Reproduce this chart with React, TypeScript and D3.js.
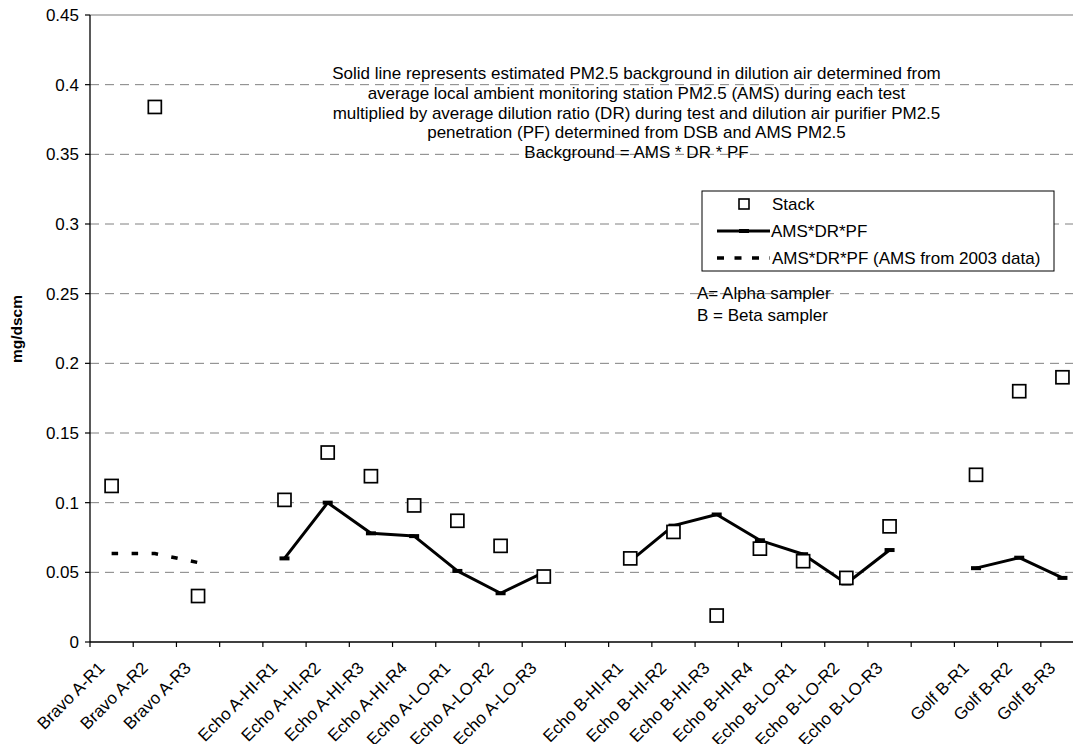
import React from "react";
import * as d3 from "d3";

const categories: string[] = [
  "Bravo A-R1", "Bravo A-R2", "Bravo A-R3", "",
  "Echo A-HI-R1", "Echo A-HI-R2", "Echo A-HI-R3", "Echo A-HI-R4",
  "Echo A-LO-R1", "Echo A-LO-R2", "Echo A-LO-R3", "",
  "Echo B-HI-R1", "Echo B-HI-R2", "Echo B-HI-R3", "Echo B-HI-R4",
  "Echo B-LO-R1", "Echo B-LO-R2", "Echo B-LO-R3", "",
  "Golf B-R1", "Golf B-R2", "Golf B-R3",
];

const stack: (number | null)[] = [
  0.112, 0.384, 0.033, null,
  0.102, 0.136, 0.119, 0.098,
  0.087, 0.069, 0.047, null,
  0.06, 0.079, 0.019, 0.067,
  0.058, 0.046, 0.083, null,
  0.12, 0.18, 0.19,
];

const amsDrPf: (number | null)[] = [
  null, null, null, null,
  0.06, 0.1, 0.078, 0.076,
  0.051, 0.035, 0.05, null,
  0.058, 0.0835, 0.0915, 0.073,
  0.063, 0.042, 0.066, null,
  0.053, 0.0605, 0.046,
];

const amsDrPf2003: (number | null)[] = [
  0.0635, 0.0635, 0.057, null,
  null, null, null, null,
  null, null, null, null,
  null, null, null, null,
  null, null, null, null,
  null, null, null,
];

const yTicks: number[] = [0, 0.05, 0.1, 0.15, 0.2, 0.25, 0.3, 0.35, 0.4, 0.45];

const noteLines: string[] = [
  "Solid line represents estimated PM2.5 background in dilution air determined from",
  "average local ambient monitoring station PM2.5 (AMS) during each test",
  "multiplied by average dilution ratio (DR) during test and dilution air purifier PM2.5",
  "penetration (PF) determined from DSB and AMS PM2.5",
  "Background = AMS * DR * PF",
];

const samplerLines: string[] = ["A= Alpha sampler", "B = Beta sampler"];

const legendLabels: string[] = ["Stack", "AMS*DR*PF", "AMS*DR*PF (AMS from 2003 data)"];

const FONT = "'Liberation Sans', Arial, Helvetica, sans-serif";

export default function App() {
  const W = 1073;
  const H = 744;
  const left = 90;
  const step = 43.22;
  const top = 15;
  const bottom = 642;

  const x = d3
    .scaleBand<number>()
    .domain(d3.range(categories.length))
    .range([left, left + step * categories.length])
    .paddingInner(0)
    .paddingOuter(0);
  const y = d3.scaleLinear().domain([0, 0.45]).range([bottom, top]);
  const cx = (i: number) => (x(i) as number) + x.bandwidth() / 2;

  const line = d3
    .line<number | null>()
    .defined((d) => d != null)
    .x((_, i) => cx(i))
    .y((d) => y(d as number));

  const right = left + step * categories.length;
  const fs = 17;

  return (
    <svg
      width={W}
      height={H}
      style={{ position: "absolute", left: 0, top: 0, background: "#fff" }}
      fontFamily={FONT}
    >
      <rect x={0} y={0} width={W} height={H} fill="#fff" />
      {/* gridlines */}
      {yTicks.filter((t) => t > 0 && t < 0.45).map((t) => (
        <line
          key={"g" + t}
          x1={left}
          x2={right}
          y1={y(t)}
          y2={y(t)}
          stroke="#808080"
          strokeWidth={1}
          strokeDasharray="9,6"
        />
      ))}
      <line x1={left} x2={right} y1={y(0.45)} y2={y(0.45)} stroke="#a6a6a6" strokeWidth={1.6} />

      {/* annotation text */}
      {noteLines.map((s, i) => (
        <text key={"n" + i} x={636.5} y={79 + i * 19.8} textAnchor="middle" fontSize={fs} fill="#000">
          {s}
        </text>
      ))}
      {samplerLines.map((s, i) => (
        <text key={"s" + i} x={697} y={299 + i * 21.5} fontSize={fs} fill="#000">
          {s}
        </text>
      ))}

      {/* legend */}
      <rect x={702} y={191} width={352} height={80} fill="#fff" stroke="#000" strokeWidth={1} />
      <rect x={739} y={199} width={10} height={10} fill="#fff" stroke="#000" strokeWidth={1.6} />
      <text x={772} y={210} fontSize={fs} fill="#000">{legendLabels[0]}</text>
      <line x1={717} x2={770} y1={231} y2={231} stroke="#000" strokeWidth={3} />
      <rect x={739} y={229} width={10} height={4} fill="#000" />
      <text x={771} y={237} fontSize={fs} fill="#000">{legendLabels[1]}</text>
      <line x1={717} x2={770} y1={258} y2={258} stroke="#000" strokeWidth={3.5} strokeDasharray="7,10.5" />
      <text x={772} y={264} fontSize={fs} fill="#000">{legendLabels[2]}</text>

      {/* axes */}
      <line x1={left} x2={left} y1={top} y2={bottom} stroke="#000" strokeWidth={1.3} />
      <line x1={left} x2={right} y1={bottom} y2={bottom} stroke="#000" strokeWidth={1.3} />
      {yTicks.map((t) => (
        <g key={"yt" + t}>
          <line x1={left - 5} x2={left} y1={y(t)} y2={y(t)} stroke="#000" strokeWidth={1.2} />
          <text x={79} y={y(t)} dy="0.36em" textAnchor="end" fontSize={fs} fill="#000">
            {String(t)}
          </text>
        </g>
      ))}
      {d3.range(categories.length + 1).map((k) => (
        <line
          key={"xt" + k}
          x1={left + k * step}
          x2={left + k * step}
          y1={bottom}
          y2={bottom + 5}
          stroke="#000"
          strokeWidth={1.2}
        />
      ))}
      {categories.map((c, i) =>
        c ? (
          <text
            key={"xl" + i}
            transform={`translate(${cx(i) - 6},${669}) rotate(-45)`}
            textAnchor="end"
            fontSize={fs}
            fill="#000"
          >
            {c}
          </text>
        ) : null
      )}
      <text
        transform={`translate(22,329) rotate(-90)`}
        textAnchor="middle"
        fontSize={15.5}
        fontWeight="bold"
        fill="#000"
      >
        mg/dscm
      </text>

      {/* series */}
      <path d={line(amsDrPf2003) || ""} fill="none" stroke="#000" strokeWidth={3.5} strokeDasharray="6.5,13.5" />
      <path d={line(amsDrPf) || ""} fill="none" stroke="#000" strokeWidth={3} strokeLinejoin="round" />
      {amsDrPf.map((v, i) =>
        v == null ? null : (
          <rect key={"m" + i} x={cx(i) - 5} y={y(v) - 2} width={10} height={4} fill="#000" />
        )
      )}
      {stack.map((v, i) =>
        v == null ? null : (
          <rect
            key={"st" + i}
            x={cx(i) - 6.5}
            y={y(v) - 6.5}
            width={13}
            height={13}
            fill="#fff"
            stroke="#000"
            strokeWidth={1.7}
          />
        )
      )}
    </svg>
  );
}
